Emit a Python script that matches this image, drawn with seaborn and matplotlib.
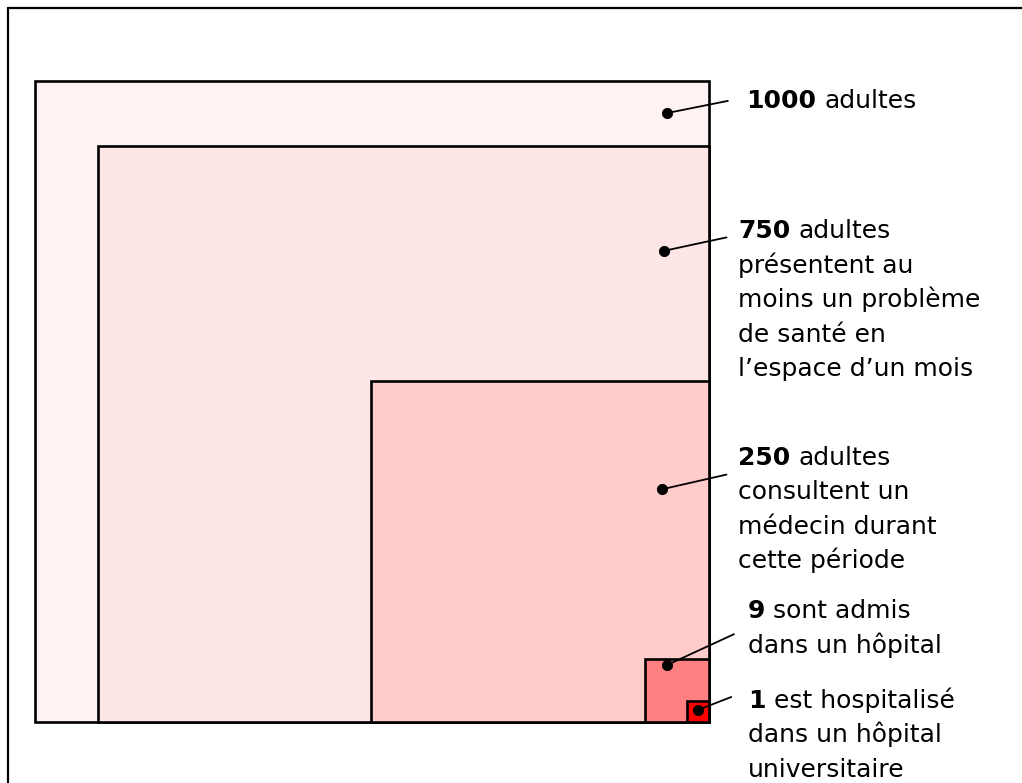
import matplotlib
matplotlib.use("Agg")
import matplotlib.pyplot as plt
from matplotlib.patches import Rectangle
from matplotlib.lines import Line2D
import seaborn as sns

# ---- data ----
counts = [1000, 750, 250, 9, 1]
# box sides, as a share of the outer box (width / height)
box_w = [100, 90.7, 50.1, 9.5, 3.3]
box_h = [100, 89.9, 53.2, 9.8, 3.3]
box_colors = ["#FFF2F2", "#FFE6E6", "#FFCCCC", "#FF8080", "#FF0000"]
first_lines = ["adultes", "adultes", "adultes", "sont admis", "est hospitalisé"]
more_lines = [
    [],
    ["présentent au", "moins un problème", "de santé en", "l\u2019espace d\u2019un mois"],
    ["consultent un", "médecin durant", "cette période"],
    ["dans un hôpital"],
    ["dans un hôpital", "universitaire"],
]

# ---- annotation layout (in the axes' data units) ----
dot_x = [93.8, 93.3, 93.0, 93.8, 98.4]
dot_y = [95.0, 73.5, 36.3, 8.9, 1.9]
end_x = [102.8, 102.6, 102.6, 103.7, 103.3]
end_y = [96.9, 75.6, 38.6, 13.7, 3.9]
text_x = [105.5, 104.3, 104.3, 105.8, 105.8]
text_y = [95.8, 75.5, 40.1, 16.2, 2.2]
LINE_STEP = 5.38
FS = 18

sns.set_theme(style="white")
plt.rcParams["font.family"] = ["DejaVu Sans"]

W, H = 1022, 783
fig = plt.figure(figsize=(W / 100, H / 100), dpi=100)
fig.patch.set_facecolor("white")
ax = fig.add_axes([35 / W, 61 / H, 674 / W, 641 / H])
ax.set_xlim(0, 100)
ax.set_ylim(0, 100)
ax.axis("off")

# figure frame (top and left edges visible)
fig.add_artist(Line2D([7.5 / W, 7.5 / W], [0, 1 - 7.5 / H], color="black", lw=1.6,
                      transform=fig.transFigure))
fig.add_artist(Line2D([7.5 / W, 1.0], [1 - 7.5 / H, 1 - 7.5 / H], color="black", lw=1.6,
                      transform=fig.transFigure))

# nested boxes anchored at bottom-right
for w, h, c in zip(box_w, box_h, box_colors):
    ax.add_patch(Rectangle((100 - w, 0), w, h, facecolor=c, edgecolor="black",
                           lw=1.9, clip_on=False, zorder=2))

# leader lines
for dx, dy, ex, ey in zip(dot_x, dot_y, end_x, end_y):
    ax.plot([dx, ex], [dy, ey], color="black", lw=1.3, clip_on=False, zorder=4)

sns.scatterplot(x=dot_x, y=dot_y, color="black", s=55, edgecolor="black",
                ax=ax, legend=False, zorder=5, clip_on=False)

fig.canvas.draw()
rend = fig.canvas.get_renderer()
inv = ax.transData.inverted()
for n, first, rest, tx, ty in zip(counts, first_lines, more_lines, text_x, text_y):
    tb = ax.text(tx, ty, str(n), fontsize=FS, fontweight="bold", ha="left",
                 va="baseline", color="black", clip_on=False)
    bb = tb.get_window_extent(rend)
    xd = inv.transform((bb.x1 + 8, bb.y0))[0]
    ax.text(xd, ty, first, fontsize=FS, ha="left", va="baseline", color="black",
            clip_on=False)
    for i, line in enumerate(rest, start=1):
        ax.text(tx, ty - i * LINE_STEP, line, fontsize=FS, ha="left", va="baseline",
                color="black", clip_on=False)

fig.savefig("out.png", dpi=100, facecolor="white")
